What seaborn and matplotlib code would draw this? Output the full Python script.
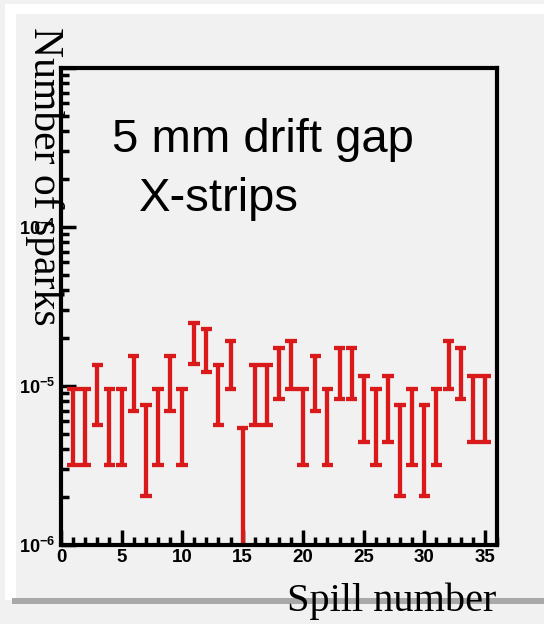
import numpy as np
import pandas as pd
import matplotlib
matplotlib.use('Agg')
import matplotlib.pyplot as plt
from matplotlib.patches import Rectangle
from matplotlib.ticker import MultipleLocator, FixedLocator, FuncFormatter, LogLocator, NullFormatter
import seaborn as sns

# spark rate per spill, with its error
spill = list(range(1, 36))
rate = [6.4e-6, 6.4e-6, 9.6e-6, 6.4e-6, 6.4e-6, 1.12e-5, 4.8e-6, 6.4e-6, 1.12e-5, 6.4e-6,
        1.92e-5, 1.76e-5, 9.6e-6, 1.44e-5, 3.2e-6, 9.6e-6, 9.6e-6, 1.28e-5, 1.44e-5, 6.4e-6,
        1.12e-5, 6.4e-6, 1.28e-5, 1.28e-5, 8.0e-6, 6.4e-6, 8.0e-6, 4.8e-6, 6.4e-6, 4.8e-6,
        6.4e-6, 1.44e-5, 1.28e-5, 8.0e-6, 8.0e-6]
err = [3.2e-6, 3.2e-6, 3.92e-6, 3.2e-6, 3.2e-6, 4.23e-6, 2.77e-6, 3.2e-6, 4.23e-6, 3.2e-6,
       5.54e-6, 5.31e-6, 3.92e-6, 4.8e-6, 2.26e-6, 3.92e-6, 3.92e-6, 4.53e-6, 4.8e-6, 3.2e-6,
       4.23e-6, 3.2e-6, 4.53e-6, 4.53e-6, 3.58e-6, 3.2e-6, 3.58e-6, 2.77e-6, 3.2e-6, 2.77e-6,
       3.2e-6, 4.8e-6, 4.53e-6, 3.58e-6, 3.58e-6]
xticks = [0, 5, 10, 15, 20, 25, 30, 35]
yticks = [1e-6, 1e-5, 1e-4, 1e-3]
ytick_labels = [r'$\mathbf{10^{-6}}$', r'$\mathbf{10^{-5}}$', r'$\mathbf{10^{-4}}$', '']

bg = '#f1f1f1'
red = '#da1a1a'

sns.set_style('ticks')
plt.rcParams['font.family'] = ['Liberation Sans', 'DejaVu Sans']
plt.rcParams['mathtext.fontset'] = 'custom'
plt.rcParams['mathtext.bf'] = 'Liberation Sans:bold'
plt.rcParams['mathtext.rm'] = 'Liberation Sans'
plt.rcParams['text.color'] = 'black'
plt.rcParams['xtick.color'] = 'black'
plt.rcParams['ytick.color'] = 'black'
plt.rcParams['xtick.labelcolor'] = 'black'
plt.rcParams['ytick.labelcolor'] = 'black'

# long form: lower and upper end of each bar
lo = np.array(rate) - np.array(err)
hi = np.array(rate) + np.array(err)
df = pd.DataFrame({'spill': spill * 2, 'val': np.concatenate([lo, hi])})

W, H = 544, 624
fig = plt.figure(figsize=(W / 100, H / 100), dpi=100, facecolor=bg)

def px(x0, y0, x1, y1):
    return (x0 / W, 1 - y1 / H), (x1 - x0) / W, (y1 - y0) / H

# white frame and bottom shadow
xy, w, h = px(5, 4, 560, 600)
fig.add_artist(Rectangle(xy, w, h, transform=fig.transFigure, facecolor='white', edgecolor='none', zorder=-3))
xy, w, h = px(16, 14, 560, 598)
fig.add_artist(Rectangle(xy, w, h, transform=fig.transFigure, facecolor=bg, edgecolor='none', zorder=-2))
xy, w, h = px(12, 598, 560, 604)
fig.add_artist(Rectangle(xy, w, h, transform=fig.transFigure, facecolor='#a9a9a9', edgecolor='none', zorder=-2))

ax = fig.add_axes([61 / W, 1 - 545 / H, 436 / W, 477 / H])
ax.set_facecolor(bg)
ax.set_yscale('log')

sns.pointplot(data=df, x='spill', y='val', native_scale=True, estimator='mean',
              errorbar=lambda v: (v.min(), v.max()), color=red,
              marker='', linestyle='none', capsize=0.95,
              err_kws={'linewidth': 3.1, 'solid_capstyle': 'butt'}, ax=ax)

ax.set_xlim(0, 36)
ax.set_ylim(1e-6, 1e-3)
ax.xaxis.set_major_locator(FixedLocator(xticks))
ax.xaxis.set_minor_locator(MultipleLocator(1))
ax.yaxis.set_major_locator(FixedLocator(yticks))
ax.yaxis.set_major_formatter(FuncFormatter(lambda v, p: ytick_labels[yticks.index(v)] if v in yticks else ''))
ax.yaxis.set_minor_locator(LogLocator(base=10, subs=np.arange(2, 10)))
ax.yaxis.set_minor_formatter(NullFormatter())
ax.set_xticklabels([str(t) for t in xticks], fontweight='bold', fontsize=13.5, color='black')

for s in ax.spines.values():
    s.set_linewidth(3)
    s.set_color('black')
ax.tick_params(axis='both', which='major', direction='in', length=11, width=2.5, color='black')
ax.tick_params(axis='both', which='minor', direction='in', length=5.5, width=2.5, color='black')
ax.tick_params(axis='x', which='both', pad=3)
ax.tick_params(axis='y', which='major', labelsize=13, pad=4, labelcolor='black')
ax.set_xlabel('')
ax.set_ylabel('')

ax.text(112 / W, 1 - 152 / H, '5 mm drift gap', transform=fig.transFigure, fontsize=34,
        color='black', ha='left', va='baseline')
ax.text(139 / W, 1 - 211 / H, 'X-strips', transform=fig.transFigure, fontsize=34,
        color='black', ha='left', va='baseline')

fig.text(44 / W, 1 - 176 / H, 'Number of sparks', rotation=270, fontsize=30, color='black',
         family=['Liberation Serif', 'DejaVu Serif'], ha='center', va='center', zorder=5)
fig.text(392 / W, 1 - 601 / H, 'Spill number', fontsize=29, color='black',
         family=['Liberation Serif', 'DejaVu Serif'], ha='center', va='center', zorder=5)

fig.savefig('out.png', dpi=100, facecolor=bg)
